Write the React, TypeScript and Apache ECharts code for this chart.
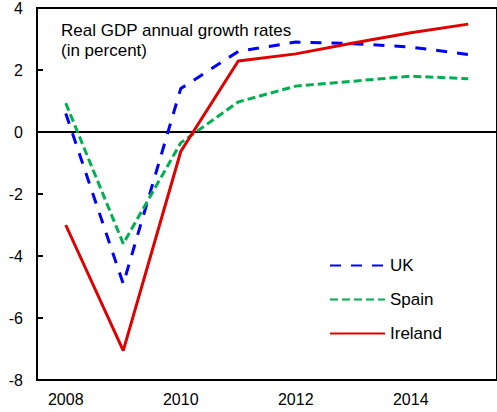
import React, { useEffect, useRef } from "react";
import * as echarts from "echarts";

const years = ["2008", "2009", "2010", "2011", "2012", "2013", "2014", "2015"];
const uk = [0.6, -4.9, 1.4, 2.6, 2.9, 2.85, 2.74, 2.5];
const spain = [0.93, -3.6, -0.35, 0.97, 1.48, 1.64, 1.8, 1.72];
const ireland = [-3.0, -7.05, -0.63, 2.29, 2.52, 2.87, 3.2, 3.48];
const titleText = "Real GDP annual growth rates\n(in percent)";

const FONT = "'Liberation Sans', Arial, sans-serif";

export default function App() {
  const ref = useRef<HTMLDivElement>(null);
  useEffect(() => {
    if (!ref.current) return;
    const chart = echarts.init(ref.current, undefined, { renderer: "svg" });
    chart.setOption({
      animation: false,
      backgroundColor: "#ffffff",
      textStyle: { fontFamily: FONT },
      title: {
        text: titleText,
        left: 56,
        top: 15,
        textStyle: {
          fontFamily: FONT,
          fontSize: 17,
          fontWeight: "normal",
          color: "#000",
          lineHeight: 20,
        },
      },
      legend: {
        orient: "vertical",
        left: 329,
        top: 257,
        padding: 0,
        itemWidth: 55,
        itemHeight: 14,
        itemGap: 17,
        itemStyle: { opacity: 0 },
        textStyle: { fontFamily: FONT, fontSize: 17, color: "#000" },
        data: ["UK", "Spain", "Ireland"],
      },
      grid: {
        left: 37,
        top: 8,
        right: -8,
        bottom: 32,
        show: true,
        borderColor: "#000",
        borderWidth: 2,
        backgroundColor: "transparent",
      },
      xAxis: {
        type: "category",
        data: years,
        boundaryGap: true,
        axisLine: { show: true, lineStyle: { color: "#000", width: 2 } },
        axisTick: { show: false },
        axisLabel: {
          interval: 1,
          margin: 11,
          fontFamily: FONT,
          fontSize: 16,
          color: "#000",
        },
        splitLine: { show: false },
      },
      yAxis: {
        type: "value",
        min: -8,
        max: 4,
        interval: 2,
        axisLine: { show: true, lineStyle: { color: "#000", width: 2 } },
        axisTick: { show: true, inside: true, length: 6, lineStyle: { color: "#000", width: 2 } },
        axisLabel: { margin: 14, fontFamily: FONT, fontSize: 16, color: "#000" },
        splitLine: { show: false },
      },
      series: [
        {
          name: "UK",
          type: "line",
          data: uk,
          symbol: "none",
          lineStyle: { color: "#0000ff", width: 3, type: [11, 10] },
          itemStyle: { color: "#0000ff" },
          z: 3,
          markLine: {
            silent: true,
            symbol: "none",
            label: { show: false },
            lineStyle: { color: "#000", width: 2, type: "solid" },
            data: [{ yAxis: 0 }],
            z: 1,
          },
        },
        {
          name: "Spain",
          type: "line",
          data: spain,
          symbol: "none",
          lineStyle: { color: "#00b050", width: 3, type: [8, 4] },
          itemStyle: { color: "#00b050" },
          z: 3,
        },
        {
          name: "Ireland",
          type: "line",
          data: ireland,
          symbol: "none",
          lineStyle: { color: "#e00000", width: 3, type: "solid" },
          itemStyle: { color: "#e00000" },
          z: 4,
        },
      ],
    });
    return () => chart.dispose();
  }, []);
  return <div ref={ref} style={{ width: 497, height: 412, position: "absolute", left: 0, top: 0 }} />;
}
